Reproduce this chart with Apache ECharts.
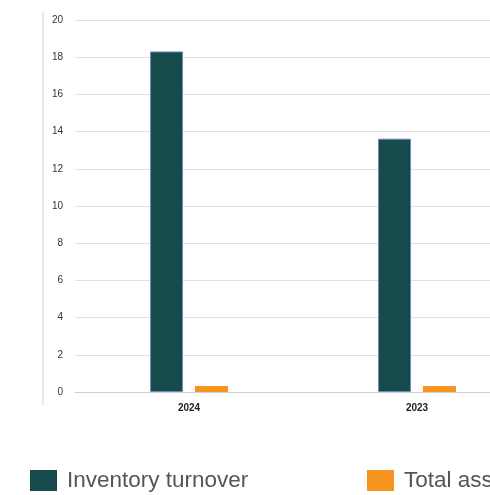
<!DOCTYPE html>
<html>
<head>
<meta charset="utf-8">
<script src="https://cdn.jsdelivr.net/npm/echarts@6/dist/echarts.min.js"></script>
<style>
html,body{margin:0;padding:0;background:#fff;overflow:hidden;width:490px;height:495px;}
#chart{width:600px;height:495px;}
</style>
</head>
<body>
<div id="chart"></div>
<script>
const categories = ['2024', '2023'];
const inventoryTurnover = [18.31, 13.62];
const totalAssetTurnover = [0.32, 0.32];
const seriesNames = ['Inventory turnover', 'Total asset turnover'];
const yTicks = { min: 0, max: 20, interval: 2 };

const chart = echarts.init(document.getElementById('chart'), null, { renderer: 'canvas' });
const font = '"Liberation Sans", Arial, Helvetica, sans-serif';
const legendText = { fontFamily: font, fontSize: 22.5, color: '#555', padding: [0, 0, 0, 5] };
chart.setOption({
  animation: false,
  grid: { left: 75, top: 20, width: 456, height: 372, containLabel: false },
  graphic: [{
    type: 'line', shape: { x1: 43, y1: 12, x2: 43, y2: 405 },
    style: { stroke: '#e8e8e8', lineWidth: 2 }
  }],
  legend: [
    { data: [seriesNames[0]], left: 30, top: 469, padding: 0, itemWidth: 27, itemHeight: 21, icon: 'rect',
      itemStyle: { borderWidth: 0 }, textStyle: legendText },
    { data: [seriesNames[1]], left: 367, top: 469, padding: 0, itemWidth: 27, itemHeight: 21, icon: 'rect',
      itemStyle: { borderWidth: 0 }, textStyle: legendText }
  ],
  xAxis: {
    type: 'category', data: categories,
    axisLine: { show: true, lineStyle: { color: '#cfcfcf', width: 1 } },
    axisTick: { show: false },
    axisLabel: { fontFamily: font, fontSize: 10, fontWeight: 'bold', color: '#222', margin: 11 }
  },
  yAxis: {
    type: 'value', min: yTicks.min, max: yTicks.max, interval: yTicks.interval,
    axisLine: { show: false }, axisTick: { show: false },
    axisLabel: { fontFamily: font, fontSize: 10, color: '#333', margin: 12 },
    splitLine: { lineStyle: { color: '#e2e2e2', width: 1 } }
  },
  series: [
    { name: seriesNames[0], type: 'bar', data: inventoryTurnover, barWidth: 33, barGap: '36%',
      itemStyle: { color: '#174a4a', borderColor: '#6d8cc6', borderWidth: 1 } },
    { name: seriesNames[1], type: 'bar', data: totalAssetTurnover, barWidth: 33, barGap: '36%',
      itemStyle: { color: '#f7941d' } }
  ]
});
</script>
</body>
</html>
